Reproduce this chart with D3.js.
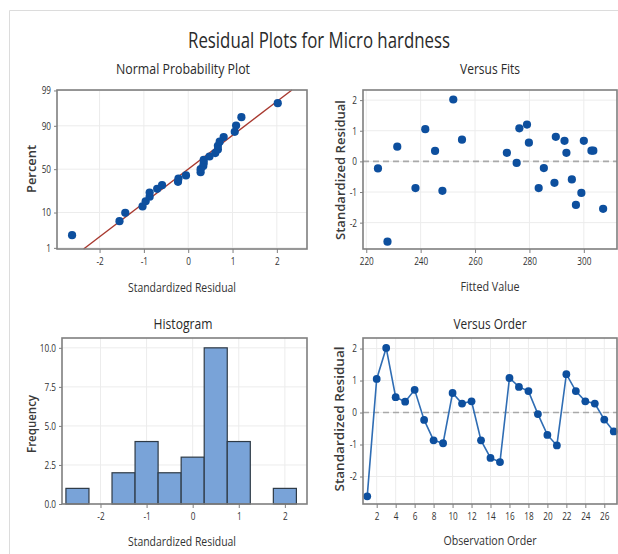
<!DOCTYPE html>
<html><head><meta charset="utf-8">
<script src="https://cdn.jsdelivr.net/npm/d3@7"></script>
<style>
body{margin:0;background:#fff}
text{font-family:"Open Sans",sans-serif;fill:#333}
</style>
</head><body>
<svg id="c" width="618" height="554"></svg>
<script>
// ---- data ----
const observationOrder = [1,2,3,4,5,6,7,8,9,10,11,12,13,14,15,16,17,18,19,20,21,22,23,24,25,26,27];
const residuals = [-2.62,1.05,2.02,0.48,0.34,0.71,-0.23,-0.87,-0.96,0.61,0.28,0.35,-0.87,-1.42,-1.55,1.08,0.80,0.67,-0.05,-0.70,-1.03,1.20,0.67,0.35,0.28,-0.22,-0.59];
const fittedValues = [227.8,241.7,252.0,231.4,245.3,255.2,224.3,238.1,248.0,279.8,271.7,302.8,283.4,297.1,307.1,276.3,289.7,292.9,275.3,289.2,299.1,279.1,300.0,303.5,293.6,285.3,295.6];
const histBinCenters = [-2.5,-2,-1.5,-1,-0.5,0,0.5,1,1.5,2];
const histCounts = [1,0,2,4,2,3,10,4,0,1];
const histBinWidth = 0.5;
const nppXTicks = [-2,-1,0,1,2];
const nppYTicks = [1,10,50,90,99];
const fitsXTicks = [220,240,260,280,300];
const residTicks = [-2,-1,0,1,2];
const histXTicks = [-2,-1,0,1,2];
const histYTicks = [0,2.5,5,7.5,10];
const histYLabels = ["0.0","2.5","5.0","7.5","10.0"];
const orderTicks = [2,4,6,8,10,12,14,16,18,20,22,24,26];

const svg = d3.select("#c");
const C = {frame:"#7f7f7f", grid:"#ececec", dot:"#0d4f9e", line:"#2f6db4", bar:"#79a3d8", barStroke:"#2e3a46", ref:"#a8392f", zero:"#a9a9a9"};

function probit(p){const a=[-3.969683028665376e+01,2.209460984245205e+02,-2.759285104469687e+02,1.383577518672690e+02,-3.066479806614716e+01,2.506628277459239e+00];const b=[-5.447609879822406e+01,1.615858368580409e+02,-1.556989798598866e+02,6.680131188771972e+01,-1.328068155288572e+01];const c=[-7.784894002430293e-03,-3.223964580411365e-01,-2.400758277161838e+00,-2.549671348254877e+00,4.374664141464968e+00,2.938163982698783e+00];const d=[7.784695709041462e-03,3.224671290700398e-01,2.445134137142996e+00,3.754408661907416e+00];const pl=0.02425,ph=1-pl;let q,r;if(p<pl){q=Math.sqrt(-2*Math.log(p));return (((((c[0]*q+c[1])*q+c[2])*q+c[3])*q+c[4])*q+c[5])/((((d[0]*q+d[1])*q+d[2])*q+d[3])*q+1);}if(p<=ph){q=p-0.5;r=q*q;return (((((a[0]*r+a[1])*r+a[2])*r+a[3])*r+a[4])*r+a[5])*q/(((((b[0]*r+b[1])*r+b[2])*r+b[3])*r+b[4])*r+1);}q=Math.sqrt(-2*Math.log(1-p));return -(((((c[0]*q+c[1])*q+c[2])*q+c[3])*q+c[4])*q+c[5])/((((d[0]*q+d[1])*q+d[2])*q+d[3])*q+1);}

function squeeze(sel,k){sel.each(function(){const w=this.getComputedTextLength();d3.select(this).attr("textLength",w*k).attr("lengthAdjust","spacingAndGlyphs");});}
function label(x,y,str,size,width,opts={}){
  const t=svg.append("text").attr("x",x).attr("y",y).attr("text-anchor","middle")
    .style("font-size",size+"px").text(str);
  if(opts.weight) t.style("font-weight",opts.weight);
  if(opts.rotate) t.attr("transform",`rotate(-90,${x},${y})`);
  if(opts.fill) t.style("fill",opts.fill);
  if(width) t.attr("textLength",width).attr("lengthAdjust","spacingAndGlyphs");
  return t;
}

// outer border
svg.append("path").attr("d","M9.5,554 V10.5 H618").attr("fill","none").attr("stroke","#dcdcdc").attr("stroke-width",1);

function panel(p){
  const g=svg.append("g");
  g.selectAll(".gx").data(p.xGrid).join("line").attr("x1",d=>p.x(d)).attr("x2",d=>p.x(d))
    .attr("y1",p.y0).attr("y2",p.y1).attr("stroke",C.grid).attr("stroke-width",1);
  g.selectAll(".gy").data(p.yGrid).join("line").attr("y1",d=>p.y(d)).attr("y2",d=>p.y(d))
    .attr("x1",p.x0).attr("x2",p.x1).attr("stroke",C.grid).attr("stroke-width",1);
  const ax=g.append("g").attr("transform",`translate(0,${p.y1})`)
    .call(d3.axisBottom(p.x).tickValues(p.xTicks).tickFormat(p.xFmt||(d=>d)).tickSize(4).tickSizeOuter(0).tickPadding(5));
  const ay=g.append("g").attr("transform",`translate(${p.x0},0)`)
    .call(d3.axisLeft(p.y).tickValues(p.yTicks).tickFormat(p.yFmt||(d=>d)).tickSize(3).tickSizeOuter(0).tickPadding(3));
  [ax,ay].forEach(a=>{a.select(".domain").remove();a.selectAll("line").attr("stroke",C.frame);
    a.selectAll("text").style("font-size","10.5px").style("font-family","'Open Sans',sans-serif").attr("fill","#333");
    squeeze(a.selectAll("text"),0.78);});
  return g;
}
function frame(p){svg.append("rect").attr("x",p.x0).attr("y",p.y0).attr("width",p.x1-p.x0).attr("height",p.y1-p.y0)
  .attr("fill","none").attr("stroke",C.frame).attr("stroke-width",1.6);}

// ---- Normal Probability Plot ----
{
  const p={x0:57,x1:307,y0:90,y1:249};
  p.x=d3.scaleLinear().domain([-2.96,2.68]).range([p.x0,p.x1]);
  const yz=d3.scaleLinear().domain([-2.36,2.34]).range([p.y1,p.y0]);
  p.y=yz; p.xTicks=nppXTicks; p.xGrid=nppXTicks;
  p.yTicks=nppYTicks.map(v=>probit(v/100)); p.yGrid=p.yTicks;
  p.yFmt=(d,i)=>nppYTicks[i];
  const g=panel(p);
  const n=residuals.length;
  const sorted=residuals.slice().sort(d3.ascending);
  const pts=sorted.map((r,i)=>({r,z:probit((i+1-0.3)/(n+0.4))}));
  g.append("line").attr("x1",p.x(-2.36)).attr("y1",yz(-2.36)).attr("x2",p.x(2.34)).attr("y2",yz(2.34))
    .attr("stroke",C.ref).attr("stroke-width",1.4);
  g.selectAll("circle").data(pts).join("circle").attr("cx",d=>p.x(d.r)).attr("cy",d=>yz(d.z)).attr("r",4.1).attr("fill",C.dot);
  frame(p);
  label(183,73.5,"Normal Probability Plot",15,134,{fill:"#2a2a2a"});
  label(182,291.5,"Standardized Residual",13,108);
  label(36,169,"Percent",12,48,{rotate:true,weight:600,fill:"#3a3a3a"});
}

// ---- Versus Fits ----
{
  const p={x0:363,x1:617,y0:90,y1:249};
  p.x=d3.scaleLinear().domain([218.8,312.2]).range([p.x0,p.x1]);
  p.y=d3.scaleLinear().domain([-2.86,2.33]).range([p.y1,p.y0]);
  p.xTicks=fitsXTicks;p.xGrid=fitsXTicks;p.yTicks=residTicks;p.yGrid=residTicks;
  const g=panel(p);
  g.append("line").attr("x1",p.x0).attr("x2",p.x1).attr("y1",p.y(0)).attr("y2",p.y(0))
    .attr("stroke",C.zero).attr("stroke-width",1.6).attr("stroke-dasharray","6,4");
  g.selectAll("circle").data(fittedValues).join("circle").attr("cx",d=>p.x(d)).attr("cy",(d,i)=>p.y(residuals[i])).attr("r",4.1).attr("fill",C.dot);
  frame(p);
  label(490,73.5,"Versus Fits",15,60,{fill:"#2a2a2a"});
  label(490,291,"Fitted Value",13,59);
  label(345,170,"Standardized Residual",12,140,{rotate:true,weight:600,fill:"#3a3a3a"});
}

// ---- Histogram ----
{
  const p={x0:62,x1:307,y0:338,y1:504};
  p.x=d3.scaleLinear().domain([-2.835,2.48]).range([p.x0,p.x1]);
  p.y=d3.scaleLinear().domain([0,10.63]).range([p.y1,p.y0]);
  p.xTicks=histXTicks;p.xGrid=histXTicks;p.yTicks=histYTicks;p.yGrid=histYTicks.slice(1);
  p.yFmt=(d,i)=>histYLabels[i];
  const g=panel(p);
  g.selectAll("rect.bar").data(histBinCenters.map((c,i)=>({c,n:histCounts[i]})).filter(d=>d.n>0)).join("rect")
    .attr("class","bar")
    .attr("x",d=>p.x(d.c-histBinWidth/2)).attr("width",d=>p.x(d.c+histBinWidth/2)-p.x(d.c-histBinWidth/2))
    .attr("y",d=>p.y(d.n)).attr("height",d=>p.y(0)-p.y(d.n))
    .attr("fill",C.bar).attr("stroke",C.barStroke).attr("stroke-width",1.2);
  frame(p);
  label(183,329,"Histogram",15,59,{fill:"#2a2a2a"});
  label(182,546,"Standardized Residual",13,108);
  label(36,424,"Frequency",12,58,{rotate:true,weight:600,fill:"#3a3a3a"});
}

// ---- Versus Order ----
{
  const p={x0:363,x1:617,y0:338,y1:504};
  p.x=d3.scaleLinear().domain([0.555,27.34]).range([p.x0,p.x1]);
  p.y=d3.scaleLinear().domain([-2.86,2.33]).range([p.y1,p.y0]);
  p.xTicks=orderTicks;p.xGrid=orderTicks;p.yTicks=residTicks;p.yGrid=residTicks;
  const g=panel(p);
  g.append("line").attr("x1",p.x0).attr("x2",p.x1).attr("y1",p.y(0)).attr("y2",p.y(0))
    .attr("stroke",C.zero).attr("stroke-width",1.6).attr("stroke-dasharray","6,4");
  const line=d3.line().x((d,i)=>p.x(observationOrder[i])).y(d=>p.y(d));
  g.append("path").datum(residuals).attr("d",line).attr("fill","none").attr("stroke",C.line).attr("stroke-width",1.6);
  g.selectAll("circle").data(residuals).join("circle").attr("cx",(d,i)=>p.x(observationOrder[i])).attr("cy",d=>p.y(d)).attr("r",3.9).attr("fill",C.dot);
  frame(p);
  label(490,329,"Versus Order",15,73,{fill:"#2a2a2a"});
  label(490,545,"Observation Order",13,93);
  label(344,419,"Standardized Residual",12,145,{rotate:true,weight:600,fill:"#3a3a3a"});
}

// main title
label(319,48,"Residual Plots for Micro hardness",22,262,{fill:"#2a2a2a"});
</script>
</body></html>
